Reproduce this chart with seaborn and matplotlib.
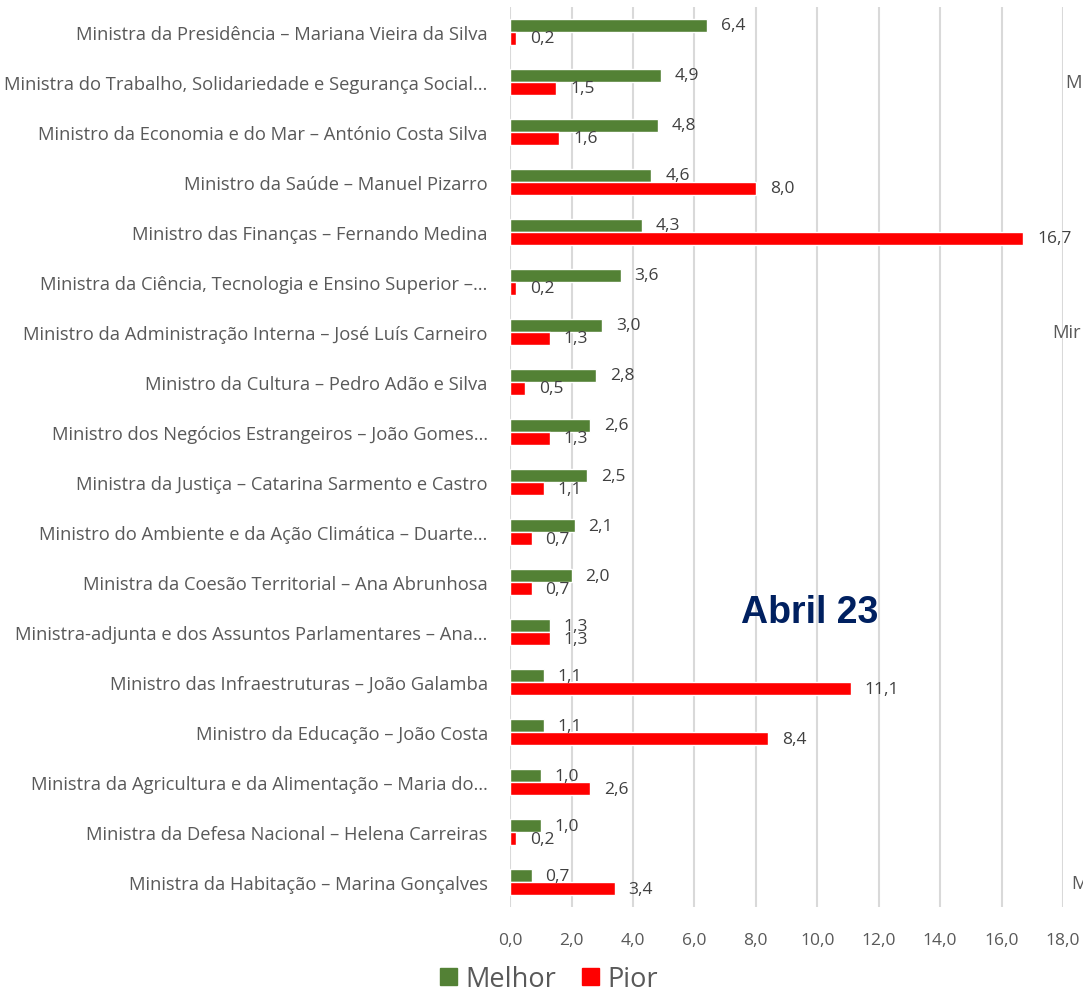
import matplotlib
matplotlib.use("Agg")
import matplotlib.pyplot as plt
import seaborn as sns
import pandas as pd
from matplotlib.patches import Patch

# dados (Abril 23)
ministros = [
    "Ministra da Presidência – Mariana Vieira da Silva",
    "Ministra do Trabalho, Solidariedade e Segurança Social…",
    "Ministro da Economia e do Mar – António Costa Silva",
    "Ministro da Saúde – Manuel Pizarro",
    "Ministro das Finanças – Fernando Medina",
    "Ministra da Ciência, Tecnologia e Ensino Superior –…",
    "Ministro da Administração Interna – José Luís Carneiro",
    "Ministro da Cultura – Pedro Adão e Silva",
    "Ministro dos Negócios Estrangeiros – João Gomes…",
    "Ministra da Justiça – Catarina Sarmento e Castro",
    "Ministro do Ambiente e da Ação Climática – Duarte…",
    "Ministra da Coesão Territorial – Ana Abrunhosa",
    "Ministra-adjunta e dos Assuntos Parlamentares – Ana…",
    "Ministro das Infraestruturas – João Galamba",
    "Ministro da Educação – João Costa",
    "Ministra da Agricultura e da Alimentação – Maria do…",
    "Ministra da Defesa Nacional – Helena Carreiras",
    "Ministra da Habitação – Marina Gonçalves",
]
melhor = [6.4, 4.9, 4.8, 4.6, 4.3, 3.6, 3.0, 2.8, 2.6, 2.5, 2.1, 2.0, 1.3, 1.1, 1.1, 1.0, 1.0, 0.7]
pior = [0.2, 1.5, 1.6, 8.0, 16.7, 0.2, 1.3, 0.5, 1.3, 1.1, 0.7, 0.7, 1.3, 11.1, 8.4, 2.6, 0.2, 3.4]
xticks = [0, 2, 4, 6, 8, 10, 12, 14, 16, 18]

cores = {"Melhor": "#538135", "Pior": "#FF0000"}

df = pd.DataFrame({
    "ministro": ministros * 2,
    "valor": melhor + pior,
    "tipo": ["Melhor"] * len(melhor) + ["Pior"] * len(pior),
})

sns.set_style("white")
plt.rcParams["font.family"] = ["Open Sans", "DejaVu Sans"]

fig = plt.figure(figsize=(10.83, 9.95), dpi=100)
ax = fig.add_axes([0.471, 0.0874, 0.5105, 0.9046])

sns.barplot(data=df, y="ministro", x="valor", hue="tipo", order=ministros,
            hue_order=["Melhor", "Pior"], palette=cores, width=0.52,
            orient="h", ax=ax, legend=False, saturation=1)

for cont in ax.containers:
    vals = [b.get_width() for b in cont]
    ax.bar_label(cont, labels=[f"{v:.1f}".replace(".", ",") for v in vals],
                 padding=10, fontsize=12.5, color="#404040")

ax.set_xlim(0, 18)
ax.set_ylim(17.5, -0.5)
ax.set_xticks(xticks)
ax.set_xticklabels([f"{t:.1f}".replace(".", ",") for t in xticks], fontsize=12.5, color="#595959")
ax.tick_params(axis="y", length=0, pad=16, labelsize=13.2, labelcolor="#595959")
ax.tick_params(axis="x", length=0, pad=18)
ax.set_xlabel("")
ax.set_ylabel("")
ax.grid(axis="x", color="#D9D9D9", lw=1.5)
ax.set_axisbelow(True)
for s in ax.spines.values():
    s.set_visible(False)

fig.text(0.7475, 0.384, "Abril 23", fontsize=27, fontweight="bold",
         color="#002060", family="Liberation Sans", ha="center", va="center")

# restos do gráfico vizinho cortado
fig.text(0.984, 0.917, "M", fontsize=13.2, color="#595959", va="center")
fig.text(0.972, 0.665, "Mir", fontsize=13.2, color="#595959", va="center")
fig.text(0.998, 0.615, "M", fontsize=13.2, color="#595959", va="center")
fig.text(0.989, 0.112, "M", fontsize=13.2, color="#595959", va="center")

handles = [Patch(color=cores[k], label=k) for k in ["Melhor", "Pior"]]
fig.legend(handles=handles, loc="center", bbox_to_anchor=(0.507, 0.015),
           ncol=2, frameon=False, fontsize=19.5, handlelength=0.63, handleheight=0.63,
           handletextpad=0.33, columnspacing=0.93, labelcolor="#595959",
           borderpad=0, borderaxespad=0)

fig.savefig("out.png", dpi=100)
